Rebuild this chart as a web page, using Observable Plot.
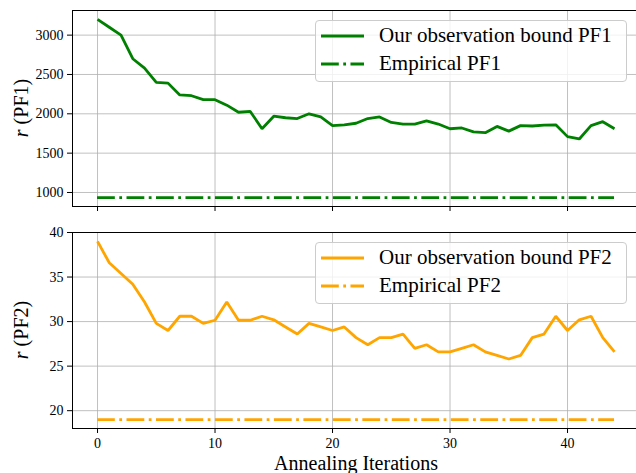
<!DOCTYPE html>
<html>
<head>
<meta charset="utf-8">
<script src="https://cdn.jsdelivr.net/npm/d3@7"></script>
<script src="https://cdn.jsdelivr.net/npm/@observablehq/plot@0.6"></script>
<style>
  html, body { margin: 0; padding: 0; background: white; overflow: hidden; }
  #wrap { position: relative; width: 636px; height: 473px; overflow: hidden; color: #000; }
  #wrap, #wrap * { font-family: "Liberation Serif", "DejaVu Serif", serif !important; }
  #wrap svg { display: block; }
  #wrap svg text { fill: #000; }
  .legend { position: absolute; box-sizing: border-box; border: 1px solid #cccccc; border-radius: 4px; background: rgba(255,255,255,0.8); }
  .row { position: absolute; left: 0; height: 20px; }
  .row svg { position: absolute; left: 5px; top: 0; }
  .row span { position: absolute; left: 63px; top: -3px; font-size: 21px; line-height: 24px; white-space: nowrap; }
  .ylab { position: absolute; font-size: 20px; white-space: nowrap; transform: translate(-50%, -50%) rotate(-90deg); line-height: 20px; }
  .xlab { position: absolute; font-size: 20px; white-space: nowrap; transform: translateX(-50%); line-height: 20px; }
</style>
</head>
<body>
<div id="wrap"></div>
<script>
// ---- data ----
const iterations = [0,1,2,3,4,5,6,7,8,9,10,11,12,13,14,15,16,17,18,19,20,21,22,23,24,25,26,27,28,29,30,31,32,33,34,35,36,37,38,39,40,41,42,43,44];
const boundPF1 = [3200,3100,3000,2700,2580,2400,2390,2240,2230,2180,2180,2110,2020,2030,1810,1970,1950,1940,2000,1960,1850,1860,1880,1940,1960,1890,1870,1870,1910,1870,1810,1820,1770,1760,1840,1780,1850,1845,1855,1860,1710,1680,1850,1900,1810];
const empiricalPF1 = 935;
const boundPF2 = [39.0,36.6,35.4,34.2,32.2,29.8,29.0,30.6,30.6,29.8,30.15,32.2,30.15,30.15,30.6,30.2,29.4,28.6,29.8,29.4,29.0,29.4,28.2,27.4,28.2,28.2,28.6,27.0,27.4,26.6,26.6,27.0,27.4,26.6,26.2,25.8,26.2,28.2,28.6,30.6,29.0,30.2,30.6,28.2,26.6];
const empiricalPF2 = 19.0;
const xTicks = [0,10,20,30,40];
const yTicksPF1 = [1000,1500,2000,2500,3000];
const yTicksPF2 = [20,25,30,35,40];
const legendPF1 = ["Our observation bound PF1", "Empirical PF1"];
const legendPF2 = ["Our observation bound PF2", "Empirical PF2"];
const colorPF1 = "green";
const colorPF2 = "orange";

const xDomain = [-2.13, 45.87];
const dash = "17.8,4.45,2.78,4.45";
const lw = 2.8;

function panel(values, emp, yDomain, yTicks, color, opts) {
  const rows = iterations.map((it, i) => ({x: it, y: values[i]}));
  return Plot.plot({
    width: 636,
    height: opts.height,
    marginLeft: 72,
    marginRight: 0,
    marginTop: opts.marginTop,
    marginBottom: opts.marginBottom,
    style: {fontFamily: "'Liberation Serif', serif", fontSize: "14px", color: "#000", background: "white"},
    x: {domain: xDomain, ticks: xTicks, label: null},
    y: {domain: yDomain, ticks: yTicks, label: null},
    marks: [
      Plot.gridX(xTicks, {stroke: "#b0b0b0", strokeOpacity: 1, strokeWidth: 0.8}),
      Plot.gridY(yTicks, {stroke: "#b0b0b0", strokeOpacity: 1, strokeWidth: 0.8}),
      Plot.line(rows, {x: "x", y: "y", stroke: color, strokeWidth: lw, strokeLinejoin: "miter", strokeLinecap: "butt"}),
      Plot.ruleY([emp], {x1: iterations[0], x2: iterations[iterations.length - 1], stroke: color, strokeWidth: lw, strokeDasharray: dash}),
      Plot.axisY(yTicks, {tickSize: 5, tickPadding: 4, tickFormat: d => String(d), fontSize: 14}),
      Plot.axisX(xTicks, {tickSize: 5, tickPadding: 5, tickFormat: opts.showX ? (d => String(d)) : (() => ""), fontSize: 14}),
      Plot.ruleY([yDomain[0], yDomain[1]], {stroke: "#000", strokeWidth: 1}),
      Plot.ruleX([xDomain[0]], {stroke: "#000", strokeWidth: 1})
    ]
  });
}

const wrap = document.getElementById("wrap");
wrap.appendChild(panel(boundPF1, empiricalPF1, [822, 3313], yTicksPF1, colorPF1, {height: 219, marginTop: 10, marginBottom: 13, showX: false}));
wrap.appendChild(panel(boundPF2, empiricalPF2, [18, 40], yTicksPF2, colorPF2, {height: 254, marginTop: 13, marginBottom: 45, showX: true}));

function legend(labels, color, top) {
  const box = document.createElement("div");
  box.className = "legend";
  Object.assign(box.style, {left: "315px", top: top + "px", width: "312px", height: "62px"});
  labels.forEach((lab, i) => {
    const row = document.createElement("div");
    row.className = "row";
    row.style.top = (5 + i * 27.5) + "px";
    row.style.width = "100%";
    const dashAttr = i === 1 ? ` stroke-dasharray="${dash}"` : "";
    row.innerHTML = `<svg width="44" height="20"><line x1="0" x2="43" y1="10" y2="10" stroke="${color}" stroke-width="${lw}"${dashAttr}/></svg><span>${lab}</span>`;
    box.appendChild(row);
  });
  wrap.appendChild(box);
}
legend(legendPF1, colorPF1, 20);
legend(legendPF2, colorPF2, 242);

function ylabel(name, cy) {
  const d = document.createElement("div");
  d.className = "ylab";
  d.style.left = "21px";
  d.style.top = cy + "px";
  d.innerHTML = `<i>r</i> (${name})`;
  wrap.appendChild(d);
}
ylabel("PF1", 108);
ylabel("PF2", 330);

const xl = document.createElement("div");
xl.className = "xlab";
xl.style.left = "356px";
xl.style.top = "453px";
xl.textContent = "Annealing Iterations";
wrap.appendChild(xl);
</script>
</body>
</html>
